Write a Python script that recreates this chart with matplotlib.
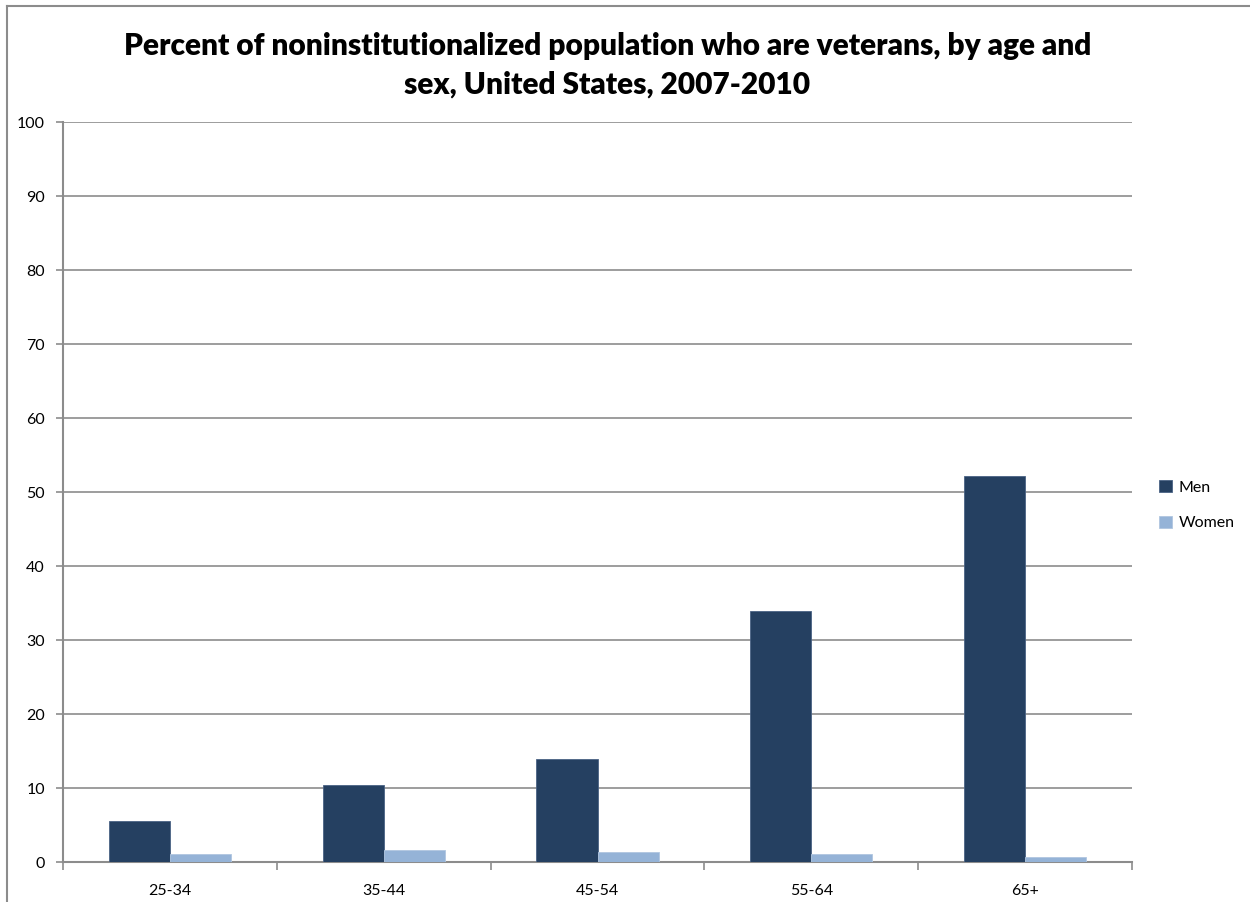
import matplotlib.pyplot as plt
from matplotlib.lines import Line2D
import numpy as np

age_groups = ['25-34', '35-44', '45-54', '55-64', '65+']
men = [5.5, 10.4, 13.9, 33.9, 52.2]
women = [1.1, 1.6, 1.3, 1.1, 0.7]
series_names = ['Men', 'Women']
men_color = '#254061'
women_color = '#95B3D7'
grid_color = '#8c8c8c'

W, H = 1250, 902
fig = plt.figure(figsize=(W / 100, H / 100), dpi=100)
plt.rcParams['font.family'] = ['Lato', 'DejaVu Sans']

# plot area in pixels: left 63, right 1132, top 122, bottom 862
ax = fig.add_axes([63 / W, 1 - 862 / H, (1132 - 63) / W, (862 - 122) / H])

x = np.arange(len(age_groups))
bw = 1 / 3.5
ax.bar(x - bw / 2, men, width=bw, color=men_color, edgecolor='#4a6385', linewidth=0.6, label=series_names[0], zorder=3)
ax.bar(x + bw / 2, women, width=bw, color=women_color, edgecolor='#b0c6e0', linewidth=0.6, label=series_names[1], zorder=3)

ax.set_xlim(-0.5, len(age_groups) - 0.5)
ax.set_ylim(0, 100)
ax.set_yticks(range(0, 101, 10))
ax.yaxis.grid(True, color=grid_color, linewidth=1.2, zorder=0)
ax.set_xticks(x)
ax.set_xticklabels(age_groups, fontsize=11.5)
ax.tick_params(axis='x', length=0, pad=16)
ax.set_xticks(np.arange(-0.5, len(age_groups)), minor=True)
ax.tick_params(axis='x', which='minor', length=6, color=grid_color, width=1.2)
ax.tick_params(axis='y', length=5, color=grid_color, width=1.2, labelsize=11.5, pad=8)

for side in ['top', 'right']:
    ax.spines[side].set_visible(False)
for side in ['left', 'bottom']:
    ax.spines[side].set_color(grid_color)
    ax.spines[side].set_linewidth(1.5)

fig.text(0.5 * (63 + 1132) / W + 0.008, 1 - 65 / H,
         'Percent of noninstitutionalized population who are veterans, by age and\nsex, United States, 2007-2010',
         ha='center', va='center', fontsize=21.5, fontweight='heavy', linespacing=1.45)

ax.legend(loc='center left', bbox_to_anchor=(1.012, 0.5 - 0.018), frameon=False,
          fontsize=11.5, handlelength=0.8, handleheight=0.8, handletextpad=0.4, labelspacing=1.3)

# chart border
fig.add_artist(Line2D([7 / W, 1], [1 - 6 / H, 1 - 6 / H], color='#8c8c8c', linewidth=1.5))
fig.add_artist(Line2D([7 / W, 7 / W], [0, 1 - 6 / H], color='#8c8c8c', linewidth=1.5))

fig.savefig('out.png', dpi=100)
